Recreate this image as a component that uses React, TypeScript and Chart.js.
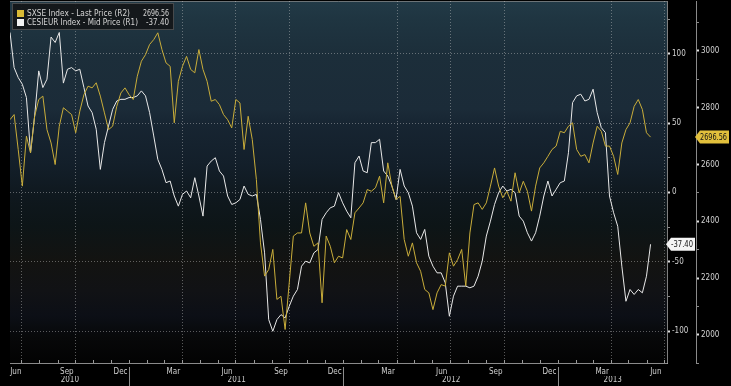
import React, { useEffect, useRef } from 'react';
import { Chart, registerables } from 'chart.js';

Chart.register(...registerables);

const DAY_MS = 86400000;
const FIRST_WEEK = '2010-06-11';
const AXIS_END = '2013-07-05';

const sxseLabel = 'SXSE Index - Last Price (R2)';
const cesiLabel = 'CESIEUR Index - Mid Price (R1)';

// SXSE Index, weekly closes (right axis R2)
const sxseValues = [
  2758, 2776, 2653, 2524, 2700, 2641, 2770, 2829, 2841, 2723,
  2676, 2600, 2735, 2800, 2788, 2776, 2712, 2788, 2846, 2876,
  2870, 2888, 2841, 2782, 2723, 2735, 2805, 2852, 2870, 2846,
  2829, 2911, 2964, 2987, 3023, 3040, 3064, 3005, 2958, 2946,
  2747, 2893, 2946, 2981, 2935, 2923, 3005, 2935, 2893, 2823,
  2829, 2811, 2776, 2758, 2729, 2829, 2817, 2653, 2770, 2688,
  2547, 2324, 2207, 2230, 2301, 2125, 2136, 2019, 2183, 2348,
  2359, 2359, 2465, 2359, 2312, 2324, 2113, 2348, 2312, 2254,
  2277, 2271, 2371, 2336, 2430, 2447, 2465, 2512, 2506, 2518,
  2559, 2465, 2606, 2524, 2477, 2488, 2336, 2277, 2324, 2254,
  2224, 2160, 2148, 2089, 2148, 2177, 2172, 2289, 2242, 2265,
  2301, 2172, 2359, 2459, 2465, 2442, 2465, 2524, 2588,
  2524, 2483, 2506, 2471, 2571, 2500, 2541, 2506, 2436, 2524,
  2588, 2606, 2629, 2653, 2665, 2717, 2712, 2735, 2747, 2653,
  2629, 2635, 2606, 2676, 2735, 2717, 2665, 2665, 2629, 2565,
  2676, 2723, 2747, 2805, 2829, 2794, 2712, 2696.56,
];

// Citi Economic Surprise Index Eurozone, weekly (R1)
const cesiValues = [
  115.3, 90.0, 82.8, 78.0, 68.4, 28.6, 55.1, 87.6, 75.6, 81.6,
  112.0, 108.1, 115.3, 78.8, 88.8, 90.0, 87.6, 88.8, 75.6, 62.3,
  57.5, 45.5, 16.6, 35.9, 47.9, 59.9, 65.9, 67.1, 67.1, 68.4,
  68.4, 69.6, 73.2, 69.6, 57.5, 40.7, 23.8, 16.6, 7.0, 8.2,
  -2.6, -9.9, -1.4, 1.0, -3.9, 10.6, -2.6, -17.1, 19.0, 22.6,
  25.0, 15.4, 11.8, -2.6, -8.7, -7.5, -5.1, 4.6, -1.4, -2.6,
  -1.4, -19.5, -43.6, -91.7, -100.1, -91.7, -88.1, -90.5, -82.1, -74.8,
  -70.0, -53.2, -49.6, -50.8, -43.6, -41.2, -19.5, -14.7, -11.1, -9.9,
  -0.2, -7.5, -13.5, -18.3, 21.4, 26.2, 15.4, 14.2, 35.9, 35.9,
  38.3, 15.4, 11.8, 4.6, -5.1, 16.6, 4.6, -0.2, -9.9, -29.1,
  -33.9, -26.7, -46.0, -53.2, -58.0, -58.0, -65.2, -89.3, -74.8, -67.6,
  -67.6, -67.6, -68.8, -67.6, -60.4, -49.6, -31.5, -20.7, -8.7,
  -0.2, 4.6, 1.0, 2.2, -0.2, -17.1, -20.7, -29.1, -35.1, -29.1,
  -17.1, -2.6, 8.2, -2.6, 2.2, 7.0, 8.2, 28.6, 64.7, 69.6,
  70.8, 65.9, 67.1, 74.4, 57.5, 46.7, 43.1, -2.6, -14.7, -24.4,
  -53.2, -78.5, -70.0, -73.6, -70.0, -72.4, -60.4, -37.40,
];

const r1Ticks = [-100, -75, -50, -25, 0, 25, 50, 75, 100, 125];
const r1Labelled = [-100, -50, 0, 50, 100];
const r2Ticks = [1900, 2000, 2100, 2200, 2300, 2400, 2500, 2600, 2700, 2800, 2900, 3000, 3100];
const r2Labelled = [2000, 2200, 2400, 2600, 2800, 3000];
const monthNames = ['Jan', 'Feb', 'Mar', 'Apr', 'May', 'Jun', 'Jul', 'Aug', 'Sep', 'Oct', 'Nov', 'Dec'];
const labelledMonths = [2, 5, 8, 11];
const years = [2010, 2011, 2012, 2013];

const FONT = "'DejaVu Sans Condensed', 'DejaVu Sans', sans-serif";
const GOLD = '#c9ad3a';
const WHITE = '#e8e8e8';
const GRID = 'rgba(205,205,205,0.42)';
const CLEAR = 'rgba(0,0,0,0)';

const dayOf = (s: string) => Date.parse(s + 'T00:00:00Z') / DAY_MS;
const dayYM = (y: number, m: number) => Date.UTC(y, m, 1) / DAY_MS;

const noPad = (s: any) => {
  s.paddingTop = 0;
  s.paddingBottom = 0;
  s.paddingLeft = 0;
  s.paddingRight = 0;
};

// draw text squeezed horizontally so it fills a given width (narrow terminal font look)
const fitText = (
  ctx: CanvasRenderingContext2D,
  text: string,
  x: number,
  y: number,
  width: number,
  align: 'left' | 'right'
) => {
  const w = ctx.measureText(text).width;
  const sx = Math.min(1, width / w);
  ctx.save();
  ctx.translate(x, y);
  ctx.scale(sx, 1);
  ctx.textAlign = align;
  ctx.fillText(text, 0, 0);
  ctx.restore();
};

type T = { value: number; kind: string; label: string };

export default function App() {
  const ref = useRef<HTMLCanvasElement>(null);

  useEffect(() => {
    document.body.style.margin = '0';
    document.body.style.background = '#000';
    const start = dayOf(FIRST_WEEK);
    const end = dayOf(AXIS_END);
    const weekDays = sxseValues.map((_, i) => start + 7 * i);

    // month starts: minor tick marks; quarter starts also get a dotted gridline
    const monthTicks: T[] = [];
    const monthLabelTicks: T[] = [];
    for (let y = 2010; y <= 2013; y++) {
      for (let m = 0; m < 12; m++) {
        const ms = dayYM(y, m);
        const me = dayYM(y, m + 1);
        if (ms > start && ms < end) {
          monthTicks.push({ value: ms, kind: m % 3 === 0 ? 'q' : 'm', label: '' });
        }
        if (labelledMonths.includes(m) && me > start && ms < end) {
          const c = (Math.max(ms, start) + Math.min(me, end)) / 2;
          monthLabelTicks.push({ value: c, kind: 'l', label: monthNames[m] });
        }
      }
    }
    const yearTicks: T[] = [];
    const sepTicks: T[] = [];
    years.forEach((y) => {
      const ys = dayYM(y, 0);
      const ye = dayYM(y + 1, 0);
      if (ys > start && ys < end) sepTicks.push({ value: ys, kind: 's', label: '' });
      const c = (Math.max(ys, start) + Math.min(ye, end)) / 2;
      yearTicks.push({ value: c, kind: 'y', label: String(y) });
    });
    const byValue = (a: T, b: T) => a.value - b.value;
    const mTicks = [...monthTicks].sort(byValue);
    const mlTicks = [...monthLabelTicks, ...sepTicks].sort(byValue);
    const yTicks = [...yearTicks, ...sepTicks].sort(byValue);
    const kindMap = new Map<number, T>();
    [...monthTicks, ...monthLabelTicks, ...yearTicks, ...sepTicks].forEach((t) => kindMap.set(t.value, t));
    const kindOf = (v: any) => kindMap.get(v);

    const bgPlugin = {
      id: 'bg',
      beforeDraw(chart: any) {
        const { ctx, chartArea: a, width, height } = chart;
        ctx.save();
        ctx.fillStyle = '#000';
        ctx.fillRect(0, 0, width, height);
        const g = ctx.createLinearGradient(0, a.top, 0, a.bottom);
        g.addColorStop(0.0, '#223a47');
        g.addColorStop(0.05, '#1f3541');
        g.addColorStop(0.15, '#1c2e3a');
        g.addColorStop(0.3, '#1b2b38');
        g.addColorStop(0.34, '#172532');
        g.addColorStop(0.45, '#131f2a');
        g.addColorStop(0.54, '#0f181e');
        g.addColorStop(0.62, '#0d1517');
        g.addColorStop(0.72, '#131311');
        g.addColorStop(0.8, '#111215');
        g.addColorStop(0.87, '#0c0f16');
        g.addColorStop(0.93, '#070809');
        g.addColorStop(1.0, '#030303');
        ctx.fillStyle = g;
        ctx.fillRect(a.left, a.top, a.right - a.left, a.bottom - a.top);
        ctx.strokeStyle = 'rgba(140,140,140,0.7)';
        ctx.lineWidth = 1;
        ctx.beginPath();
        ctx.moveTo(a.left, a.top + 0.5);
        ctx.lineTo(a.right, a.top + 0.5);
        ctx.stroke();
        ctx.restore();
      },
    };

    const tag = (
      ctx: CanvasRenderingContext2D,
      xTip: number,
      y: number,
      w: number,
      textW: number,
      fill: string,
      text: string
    ) => {
      const h = 13;
      ctx.fillStyle = fill;
      ctx.beginPath();
      ctx.moveTo(xTip, y);
      ctx.lineTo(xTip + 5, y - h / 2);
      ctx.lineTo(xTip + w, y - h / 2);
      ctx.lineTo(xTip + w, y + h / 2);
      ctx.lineTo(xTip + 5, y + h / 2);
      ctx.closePath();
      ctx.fill();
      ctx.fillStyle = '#151515';
      ctx.font = `9px ${FONT}`;
      ctx.textBaseline = 'middle';
      fitText(ctx, text, xTip + w - 2, y + 0.5, textW, 'right');
    };

    const overlayPlugin = {
      id: 'overlay',
      afterDraw(chart: any) {
        const { ctx } = chart;
        ctx.save();
        ctx.fillStyle = 'rgba(20,22,24,0.92)';
        ctx.fillRect(12, 3, 162, 27);
        ctx.strokeStyle = '#474a4c';
        ctx.lineWidth = 1;
        ctx.strokeRect(12.5, 3.5, 161, 26);
        ctx.fillStyle = '#d8b935';
        ctx.fillRect(17, 10, 7, 7);
        ctx.fillStyle = '#f2f2f2';
        ctx.fillRect(17, 19, 7, 7);
        ctx.font = `9px ${FONT}`;
        ctx.fillStyle = '#d6d6d6';
        ctx.textBaseline = 'middle';
        fitText(ctx, sxseLabel, 27, 13.5, 103, 'left');
        fitText(ctx, cesiLabel, 27, 22.5, 111, 'left');
        const lastS = sxseValues[sxseValues.length - 1];
        const lastC = cesiValues[cesiValues.length - 1];
        fitText(ctx, lastS.toFixed(2), 169, 13.5, 26, 'right');
        fitText(ctx, lastC.toFixed(2), 169, 22.5, 23, 'right');
        const yS = chart.scales.y2.getPixelForValue(lastS);
        const yC = chart.scales.y.getPixelForValue(lastC);
        tag(ctx, 695, yS, 34, 27, '#e2c03c', lastS.toFixed(2));
        tag(ctx, 666, yC, 29, 22, '#f4f4f4', lastC.toFixed(2));
        ctx.restore();
      },
    };

    const sepColor = (c: any) => {
      const t = c.tick && kindOf(c.tick.value);
      return t && t.kind === 's' ? '#8c8c8c' : CLEAR;
    };

    const chart = new Chart(ref.current as HTMLCanvasElement, {
      type: 'line',
      data: {
        datasets: [
          {
            label: sxseLabel,
            data: weekDays.map((d, i) => ({ x: d, y: sxseValues[i] })),
            yAxisID: 'y2',
            xAxisID: 'x',
            borderColor: GOLD,
            borderWidth: 1,
            pointRadius: 0,
            tension: 0,
          },
          {
            label: cesiLabel,
            data: weekDays.map((d, i) => ({ x: d, y: cesiValues[i] })),
            yAxisID: 'y',
            xAxisID: 'x',
            borderColor: WHITE,
            borderWidth: 1,
            pointRadius: 0,
            tension: 0,
          },
        ],
      },
      options: {
        responsive: false,
        animation: false,
        devicePixelRatio: 1,
        layout: { padding: { left: 10, top: 1, right: 0, bottom: 0 } },
        plugins: { legend: { display: false }, tooltip: { enabled: false } },
        font: { family: FONT, size: 8 },
        scales: {
          x: {
            type: 'linear',
            position: 'bottom',
            min: start,
            max: end,
            afterBuildTicks: (s: any) => {
              s.ticks = mTicks.map((t) => ({ value: t.value }));
            },
            afterFit: (s: any) => {
              s.height = 4;
              noPad(s);
            },
            ticks: { autoSkip: false, maxRotation: 0, callback: () => '' },
            grid: {
              color: (c: any) => {
                const t = c.tick && kindOf(c.tick.value);
                return t && t.kind === 'q' ? GRID : CLEAR;
              },
              tickColor: '#9a9a9a',
              tickLength: -3,
              tickBorderDash: [],
            },
            border: { display: true, color: '#8a8a8a', dash: [1, 2] },
          },
          xMonth: {
            type: 'linear',
            position: 'bottom',
            min: start,
            max: end,
            afterBuildTicks: (s: any) => {
              s.ticks = mlTicks.map((t) => ({ value: t.value }));
            },
            afterFit: (s: any) => {
              s.height = 9;
              noPad(s);
            },
            ticks: {
              autoSkip: false,
              maxRotation: 0,
              padding: -9,
              color: '#cfcfcf',
              font: { family: FONT, size: 8 },
              callback: (v: any) => {
                const t = kindOf(v);
                return t && t.kind === 'l' ? t.label : '';
              },
            },
            grid: { drawOnChartArea: false, color: CLEAR, tickColor: sepColor, tickLength: 9 },
            border: { display: false },
          },
          xYear: {
            type: 'linear',
            position: 'bottom',
            min: start,
            max: end,
            afterBuildTicks: (s: any) => {
              s.ticks = yTicks.map((t) => ({ value: t.value }));
            },
            afterFit: (s: any) => {
              s.height = 10;
              noPad(s);
            },
            ticks: {
              autoSkip: false,
              maxRotation: 0,
              padding: -11,
              color: '#cfcfcf',
              font: { family: FONT, size: 8 },
              callback: (v: any) => {
                const t = kindOf(v);
                return t && t.kind === 'y' ? t.label : '';
              },
            },
            grid: { drawOnChartArea: false, color: CLEAR, tickColor: sepColor, tickLength: 10 },
            border: { display: false },
          },
          y: {
            type: 'linear',
            position: 'right',
            min: -123,
            max: 138,
            afterBuildTicks: (s: any) => {
              s.ticks = r1Ticks.map((v) => ({ value: v }));
            },
            afterFit: (s: any) => {
              s.width = 29;
              noPad(s);
            },
            ticks: {
              autoSkip: false,
              padding: 2,
              color: '#d2d2d2',
              font: { family: FONT, size: 8 },
              callback: (v: any) => (r1Labelled.includes(v) ? String(v) : ''),
            },
            grid: {
              color: (c: any) => (c.tick && r1Labelled.includes(c.tick.value) ? GRID : CLEAR),
              tickColor: (c: any) => (c.tick && r1Labelled.includes(c.tick.value) ? '#e0e0e0' : '#8a8a8a'),
              tickWidth: (c: any) => (c.tick && r1Labelled.includes(c.tick.value) ? 2 : 1),
              tickLength: 3,
              tickBorderDash: [],
            },
            border: { display: true, color: 'rgba(170,170,170,0.75)', dash: [1, 2] },
          },
          y2: {
            type: 'linear',
            position: 'right',
            min: 1901,
            max: 3176,
            afterBuildTicks: (s: any) => {
              s.ticks = r2Ticks.map((v) => ({ value: v }));
            },
            afterFit: (s: any) => {
              s.width = 35;
              noPad(s);
            },
            ticks: {
              autoSkip: false,
              padding: 2,
              color: '#d2d2d2',
              font: { family: FONT, size: 8 },
              callback: (v: any) => (r2Labelled.includes(v) ? String(v) : ''),
            },
            grid: {
              drawOnChartArea: false,
              color: CLEAR,
              tickColor: (c: any) => (c.tick && r2Labelled.includes(c.tick.value) ? '#e0e0e0' : '#8a8a8a'),
              tickWidth: (c: any) => (c.tick && r2Labelled.includes(c.tick.value) ? 2 : 1),
              tickLength: 3,
            },
            border: { display: true, color: '#8a8a8a' },
          },
        },
      } as any,
      plugins: [bgPlugin, overlayPlugin],
    });
    return () => chart.destroy();
  }, []);

  return (
    <div style={{ position: 'fixed', left: 0, top: 0, width: 731, height: 386, background: '#000' }}>
      <canvas ref={ref} width={731} height={386} style={{ display: 'block' }} />
    </div>
  );
}
